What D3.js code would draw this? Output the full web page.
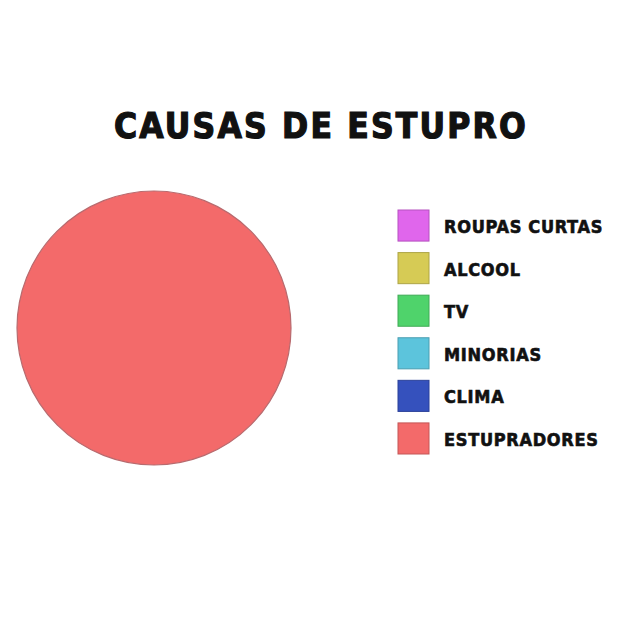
<!DOCTYPE html>
<html>
<head>
<meta charset="utf-8">
<script src="https://cdn.jsdelivr.net/npm/d3@7"></script>
<style>
  body { margin: 0; background: #fff; }
  text { font-family: "DejaVu Sans", sans-serif; font-weight: bold; font-stretch: condensed; fill: #111; stroke: #111; }
</style>
</head>
<body>
<div id="canvas"></div>
<script>
const title = 'CAUSAS DE ESTUPRO';
const categories = ['ROUPAS CURTAS', 'ALCOOL', 'TV', 'MINORIAS', 'CLIMA', 'ESTUPRADORES'];
const values = [0, 0, 0, 0, 0, 100];
const colors = ['#e066ec', '#d6cb55', '#4fd36b', '#5cc4dc', '#3551bd', '#f36a6a'];

const w = 640, h = 640;
const svg = d3.select('#canvas').append('svg')
    .attr('width', w)
    .attr('height', h);

svg.append('text')
    .attr('x', 321)
    .attr('y', 138)
    .attr('text-anchor', 'middle')
    .style('font-size', '35px')
    .style('stroke-width', 1.2)
    .style('letter-spacing', '2.2px')
    .text(title);

const color = d3.scaleOrdinal().domain(categories).range(colors);
const pie = d3.pie().sort(null).value(d => d.value);
const arc = d3.arc().innerRadius(0).outerRadius(137);
const slices = pie(categories.map((c, i) => ({ label: c, value: values[i] })))
    .filter(d => d.data.value > 0);

svg.append('g')
    .attr('transform', 'translate(154,328)')
    .selectAll('path')
    .data(slices)
    .enter()
    .append('path')
        .attr('d', arc)
        .style('fill', d => color(d.data.label))
        .style('stroke', '#b86a6e')
        .style('stroke-width', 1.2);

// legend
const y = d3.scaleBand().domain(categories).range([210, 454]).paddingInner(0.27).paddingOuter(0);
const legend = svg.append('g')
    .selectAll('g')
    .data(categories)
    .enter()
    .append('g')
        .attr('transform', d => 'translate(398,' + y(d) + ')');

legend.append('rect')
    .attr('width', 31)
    .attr('height', y.bandwidth())
    .style('fill', d => color(d))
    .style('stroke', d => d3.color(color(d)).darker(0.6))
    .style('stroke-width', 1);

legend.append('text')
    .attr('x', 46)
    .attr('y', 23)
    .style('font-size', '18px')
    .style('stroke-width', 0.6)
    .style('letter-spacing', '0.7px')
    .text(d => d);
</script>
</body>
</html>
